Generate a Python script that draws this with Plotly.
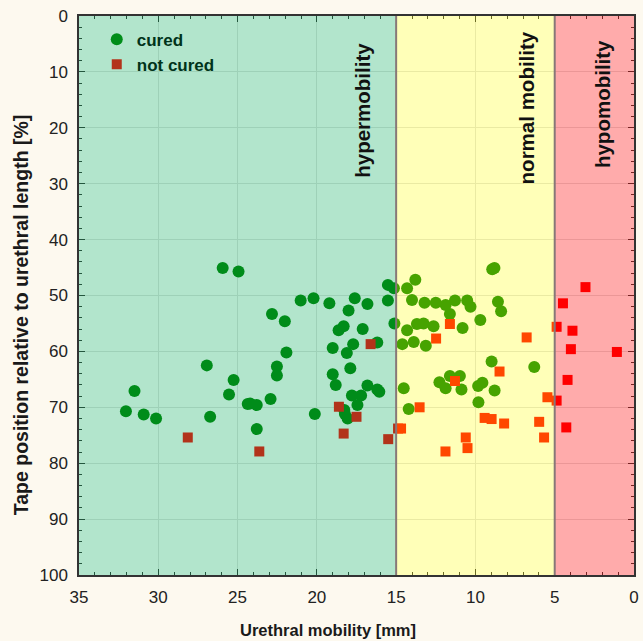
import plotly.graph_objects as go

# ---------------- data ----------------
cured_x = [25.94, 24.94, 26.94, 25.25, 25.54, 24.36, 31.5, 32.04, 30.92, 30.14, 26.73,
           15.52, 15.14, 21.02, 20.21, 19.21, 17.61, 16.81, 18.0, 15.52, 22.83, 22.02,
           18.63, 18.31, 17.11, 15.11, 17.71, 16.19, 19.0, 18.11, 21.92, 22.52, 22.52,
           17.89, 19.0, 18.81, 16.81, 16.19, 17.79, 17.21, 17.44, 18.27, 18.23, 18.06,
           22.92, 24.21, 23.79, 20.13, 23.79, 16.06,
           13.79, 14.31, 14.0, 13.21, 12.5, 11.88, 11.29, 10.52, 10.31, 11.61, 8.58,
           8.38, 8.94, 8.8, 9.69, 13.69, 13.27, 12.64, 10.81, 14.31, 14.61, 13.89, 13.13,
           8.98, 6.29, 12.27, 11.61, 10.98, 11.88, 10.88, 9.83, 9.56, 8.79, 9.81, 14.52, 14.21]
cured_y = [45.1, 45.7, 62.5, 65.1, 67.7, 69.4, 67.1, 70.7, 71.3, 72.0, 71.7,
           48.1, 48.7, 50.9, 50.5, 51.4, 50.5, 51.5, 52.7, 50.9, 53.3, 54.6,
           56.2, 55.5, 56.0, 55.0, 58.7, 58.4, 59.4, 60.3, 60.2, 62.7, 64.3,
           63.0, 64.1, 66.0, 66.1, 66.8, 67.9, 67.9, 69.6, 70.5, 71.2, 72.0,
           68.5, 69.3, 69.6, 71.2, 73.9, 67.2,
           47.2, 48.7, 50.8, 51.3, 51.3, 51.7, 50.9, 50.9, 52.0, 53.3, 51.1,
           52.8, 45.3, 45.1, 54.4, 55.1, 55.0, 55.5, 55.8, 56.2, 58.7, 58.3, 59.0,
           61.8, 62.8, 65.5, 64.4, 64.4, 66.6, 66.8, 66.2, 65.6, 67.0, 69.1, 66.6, 70.3]

notcured_x = [28.14, 16.61, 18.61, 17.5, 18.31, 15.5, 23.63,
              14.88, 14.69, 13.52, 12.48, 11.61, 6.77, 8.48, 11.29, 5.46, 9.42, 8.98,
              8.19, 5.98, 5.67, 10.61, 10.5, 11.89,
              3.06, 4.48, 4.88, 3.88, 3.98, 1.08, 4.19, 4.88, 4.27]
notcured_y = [75.4, 58.7, 69.9, 71.7, 74.7, 75.7, 77.9,
              73.8, 73.8, 70.0, 57.7, 55.1, 57.5, 63.6, 65.3, 68.2, 71.9, 72.1,
              72.9, 72.6, 75.4, 75.4, 77.3, 77.9,
              48.5, 51.4, 55.6, 56.3, 59.6, 60.1, 65.1, 68.8, 73.6]

zone_bounds = [35, 15, 5, 0]
zone_labels = ["hypermobility", "normal mobility", "hypomobility"]
zone_label_x = [17.1, 6.8, 2.0]
zone_label_y = [16.8, 16.5, 15.7]
zone_fill = ["rgba(0,170,85,0.30)", "rgba(255,255,0,0.28)", "rgba(255,0,0,0.33)"]

series_names = ["cured", "not cured"]

FONT = "Liberation Sans, Arial, sans-serif"

fig = go.Figure()

# real data traces (legend drawn with tinted proxies below)
fig.add_trace(go.Scatter(x=cured_x, y=cured_y, mode="markers", showlegend=False,
                         marker=dict(symbol="circle", size=12, color="rgb(0,128,0)",
                                     line=dict(width=0))))
fig.add_trace(go.Scatter(x=notcured_x, y=notcured_y, mode="markers", showlegend=False,
                         marker=dict(symbol="square", size=10, color="rgb(255,0,0)",
                                     line=dict(width=0))))
# legend proxies (colours as seen beneath the green overlay)
fig.add_trace(go.Scatter(x=[None], y=[None], mode="markers", name=series_names[0],
                         marker=dict(symbol="circle", size=12, color="rgb(0,141,25)")))
fig.add_trace(go.Scatter(x=[None], y=[None], mode="markers", name=series_names[1],
                         marker=dict(symbol="square", size=10, color="rgb(179,51,26)")))

# translucent zones drawn above the markers
for i in range(3):
    fig.add_shape(type="rect", xref="x", yref="paper",
                  x0=zone_bounds[i], x1=zone_bounds[i + 1], y0=0, y1=1,
                  fillcolor=zone_fill[i], line=dict(width=0), layer="above")
for b in zone_bounds[1:3]:
    fig.add_shape(type="line", xref="x", yref="paper", x0=b, x1=b, y0=0, y1=1,
                  line=dict(color="rgb(135,120,120)", width=2), layer="above")

for lab, lx, ly in zip(zone_labels, zone_label_x, zone_label_y):
    fig.add_annotation(x=lx, y=ly, xref="x", yref="y", text=lab, showarrow=False,
                       textangle=-90, xanchor="center", yanchor="middle",
                       font=dict(family=FONT, size=20.5, color="#111111", weight="bold"))

# axis titles
fig.add_annotation(x=0.448, y=-0.098, xref="paper", yref="paper",
                   text="Urethral mobility [mm]", showarrow=False,
                   xanchor="center", yanchor="middle",
                   font=dict(family=FONT, size=16.5, color="#1a1a1a", weight="bold"))
fig.add_annotation(x=-0.105, y=0.466, xref="paper", yref="paper",
                   text="Tape position relative to urethral length [%]", showarrow=False,
                   textangle=-90, xanchor="center", yanchor="middle",
                   font=dict(family=FONT, size=19.5, color="#1a1a1a", weight="bold"))

axis_common = dict(showline=True, linecolor="#333333", linewidth=1.5, mirror="ticks",
                   ticks="inside", ticklen=6, tickcolor="#333333", tickwidth=1.2,
                   showgrid=True, gridcolor="#e2e2e2", gridwidth=1, zeroline=False,
                   tickfont=dict(family=FONT, size=17, color="#222222"))

fig.update_xaxes(range=[35, 0], dtick=5, tick0=0, ticklabelstandoff=6,
                 minor=dict(dtick=1, ticks="inside", ticklen=3, tickcolor="#333333",
                            showgrid=False),
                 **axis_common)
fig.update_yaxes(range=[100, 0], dtick=10, tick0=0, ticklabelstandoff=6,
                 minor=dict(dtick=2, ticks="inside", ticklen=3, tickcolor="#333333",
                            showgrid=False),
                 **axis_common)

fig.update_layout(
    width=643, height=641,
    margin=dict(l=79, r=4, t=16, b=66),
    paper_bgcolor="#fdf9ef", plot_bgcolor="#ffffff",
    showlegend=True,
    legend=dict(x=0.032, y=0.990, xanchor="left", yanchor="top",
                bgcolor="rgba(0,0,0,0)", borderwidth=0, tracegroupgap=0,
                font=dict(family=FONT, size=17, color="#00331a", weight="bold")),
)

fig.write_html("out.html",
               config={"displayModeBar": False},
               post_script="document.body.style.margin='0';"
                           "document.body.style.overflow='hidden';"
                           "document.body.style.background='#fdf9ef';")
